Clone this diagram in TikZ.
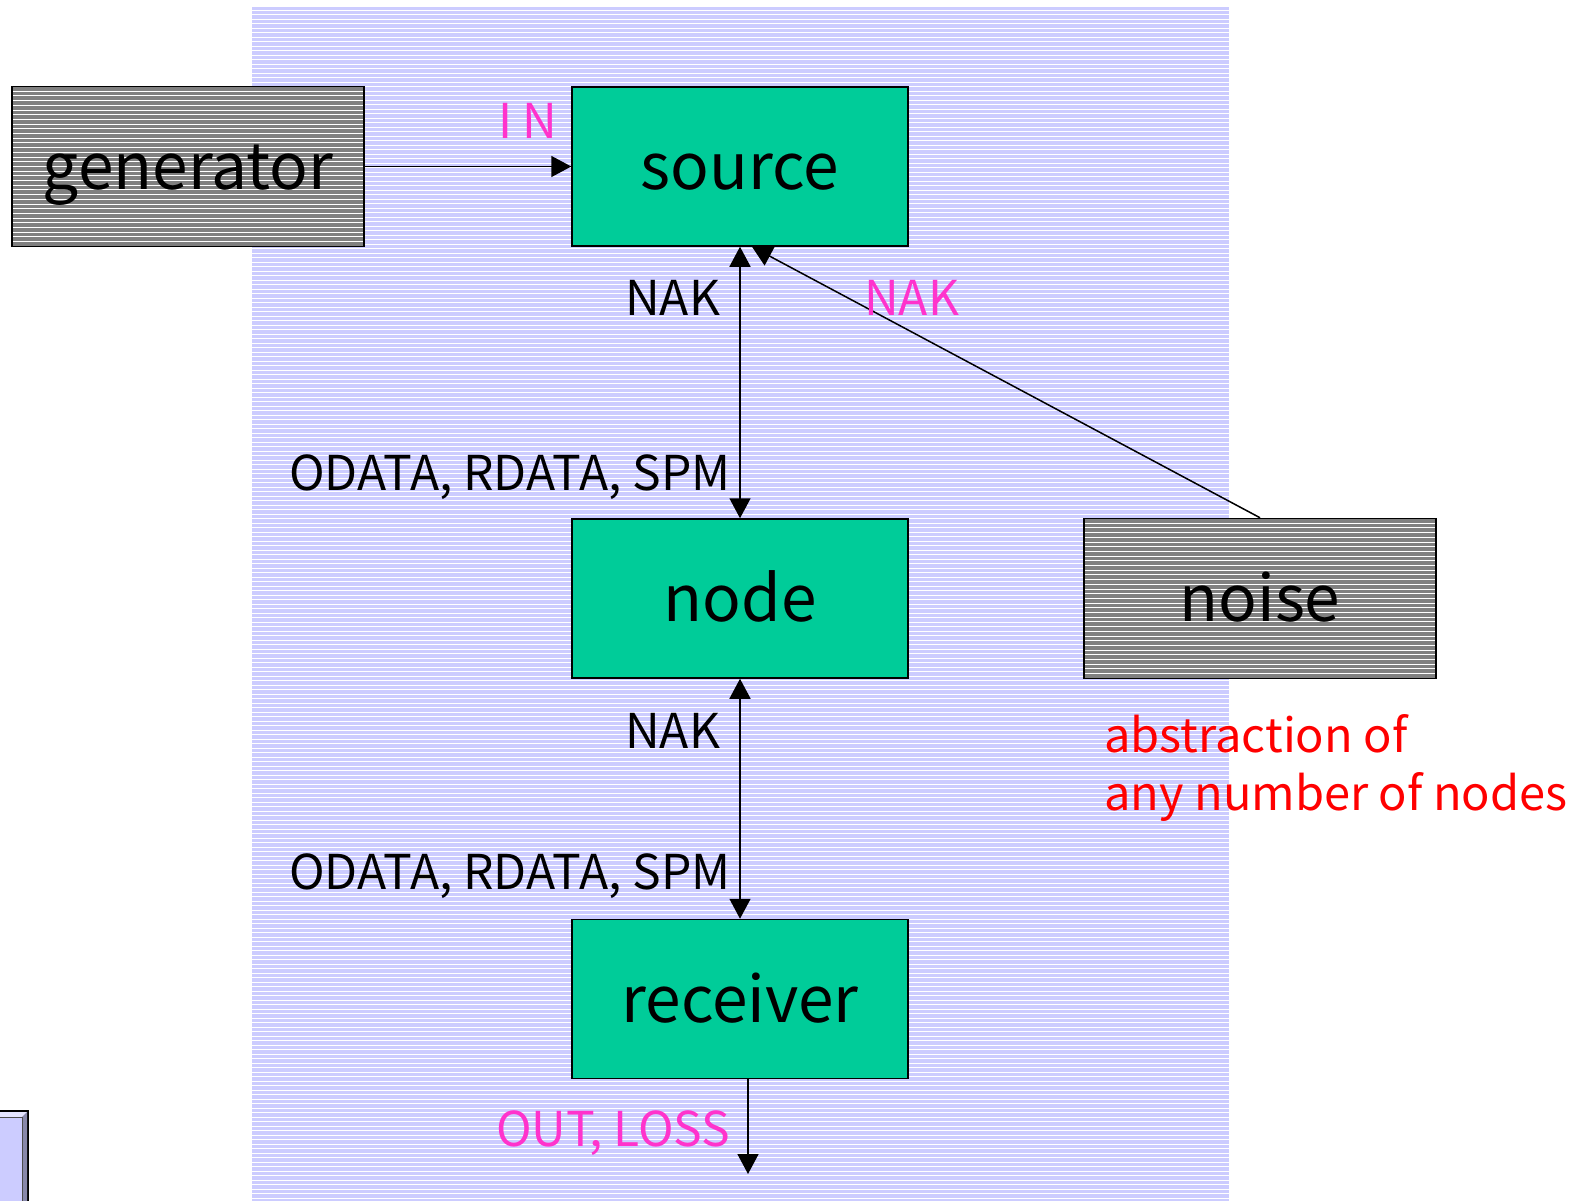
\documentclass[tikz,border=0pt]{standalone}
\usepackage{fontspec}
\setmainfont{Noto Sans CJK JP}
\usetikzlibrary{arrows.meta,calc}
\definecolor{lav}{HTML}{CCCCFF}
\definecolor{lavlight}{HTML}{E4E4FF}
\definecolor{lavdark}{HTML}{8888AA}
\definecolor{grn}{HTML}{00CC99}
\definecolor{mag}{HTML}{FF33CC}
\definecolor{boxgray}{HTML}{808080}
\begin{document}
\begin{tikzpicture}[x=1pt,y=-1pt,
  bigtext/.style={font=\fontsize{64}{74}\selectfont, text height=46pt, text depth=0pt, inner sep=0pt},
  gbox/.style={bigtext, draw=black, line width=1.5pt, fill=boxgray, minimum width=352pt, minimum height=160pt,
    path picture={\foreach \k in {1,...,34}{\draw[white,line width=0.9pt] ($(path picture bounding box.north west)+(0,\k*4.7)$) -- ($(path picture bounding box.north east)+(0,\k*4.7)$);}}},
  ebox/.style={bigtext, draw=black, line width=1.5pt, fill=grn, minimum width=336pt, minimum height=159pt},
  lbl/.style={font=\fontsize{48}{50}\selectfont, anchor=base west, inner sep=0pt},
  rlbl/.style={font=\fontsize{47}{50}\selectfont, anchor=base west, inner sep=0pt, text=red},
  arr/.style={line width=1.5pt, -{Triangle[length=20pt,width=21pt]}},
  darr/.style={line width=1.5pt, {Triangle[length=20pt,width=21pt]}-{Triangle[length=20pt,width=21pt]}}]
\useasboundingbox (0,0) rectangle (1584,1201);
\fill[white] (0,0) rectangle (1584,1201);
% striped background
\fill[lav] (252,7) rectangle (1229,1201);
\foreach \i in {0,...,265} \draw[white,line width=1.3pt] (252,{10.2+4.5*\i}) -- (1229,{10.2+4.5*\i});
% small bevelled box, bottom left
\filldraw[fill=lav, draw=black, line width=1.5pt] (-3,1111) rectangle (28,1210);
\fill[lavlight] (-3,1112) -- (27,1112) -- (22,1117) -- (-3,1117) -- cycle;
\fill[lavdark] (27,1112) -- (22,1117) -- (22,1210) -- (27,1210) -- cycle;
\draw[black!70, line width=0.6pt] (-3,1117) -- (22,1117) -- (22,1210);
% boxes
\node[gbox] (gen) at (188,166.5) {generator};
\node[ebox] (src) at (740,166.5) {source};
\node[ebox] (nd) at (740,598.5) {node};
\node[ebox] (rcv) at (740,999) {receiver};
\node[gbox] (noise) at (1260,598.5) {noise};
\coordinate (out) at (748,1174);
% connectors
\draw[arr] (gen.east) -- (src.west);
\draw[darr] (src.south) -- (nd.north);
\draw[arr] (noise.north) -- ($(src.south)+(12,0)$);
\draw[darr] (nd.south) -- (rcv.north);
\draw[arr] (rcv.south -| out) -- (out);
% labels
\node[lbl, text=mag] (lin) at (498,139) {I N};
\node[lbl] (lnak1) at (625,315) {NAK};
\node[lbl, text=mag] (lnak2) at (864,315) {NAK};
\node[lbl] (ldata1) at (289,490) {ODATA, RDATA, SPM};
\node[lbl] (lnak3) at (625,748) {NAK};
\node[lbl] (ldata2) at (289,889) {ODATA, RDATA, SPM};
\node[lbl, text=mag] (lout) at (496,1146) {OUT, LOSS};
\node[rlbl] (abs1) at (1104,752) {abstraction of};
\node[rlbl] (abs2) at (1104,810) {any number of nodes};
\end{tikzpicture}
\end{document}
